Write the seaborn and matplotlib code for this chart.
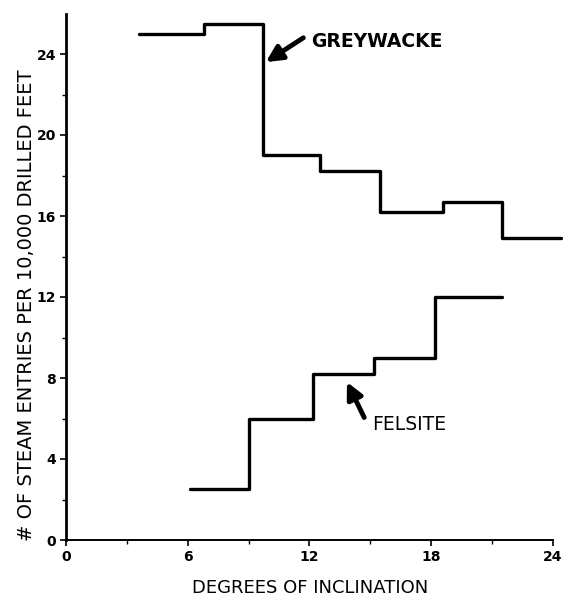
import numpy as np
import pandas as pd
import matplotlib
matplotlib.use("Agg")
import matplotlib.pyplot as plt
import seaborn as sns

# Step edges (degrees) and levels (entries per 10,000 ft)
grey_edges = [3.6, 6.8, 9.7, 12.5, 15.5, 18.6, 21.5, 24.4]
grey_values = [25.0, 25.5, 19.0, 18.2, 16.2, 16.7, 14.9]
fels_edges = [6.1, 9.0, 12.2, 15.2, 18.2, 21.5]
fels_values = [2.5, 6.0, 8.2, 9.0, 12.0]

x_major = [0, 6, 12, 18, 24]
x_minor = [3, 9, 15, 21]
y_major = [0, 4, 8, 12, 16, 20, 24]
y_minor = [2, 6, 10, 14, 18, 22]

sns.set_style("ticks")
plt.rcParams['font.family'] = ['DejaVu Sans']
plt.rcParams['text.color'] = 'black'
plt.rcParams['axes.labelcolor'] = 'black'
plt.rcParams['xtick.color'] = 'black'
plt.rcParams['ytick.color'] = 'black'
plt.rcParams['axes.edgecolor'] = 'black'

def step_frame(edges, values, name):
    return pd.DataFrame({"x": edges, "y": list(values) + [values[-1]], "rock": name})

df = pd.concat([step_frame(grey_edges, grey_values, "GREYWACKE"),
                step_frame(fels_edges, fels_values, "FELSITE")], ignore_index=True)

fig = plt.figure(figsize=(5.63, 5.98), dpi=100)
ax = fig.add_axes([66/563, 58/598, 497/563, 526.5/598])

sns.lineplot(data=df, x="x", y="y", units="rock", estimator=None,
             drawstyle="steps-post", color="black", linewidth=2.4,
             legend=False, ax=ax, sort=False)

ax.set_xlim(0, 24.5)
ax.set_ylim(0, 26)
sns.despine(ax=ax)
ax.spines['bottom'].set_bounds(0, 24)
ax.spines['left'].set_linewidth(2.0)
ax.spines['bottom'].set_linewidth(1.4)

ax.set_xticks(x_major)
ax.set_xticks(x_minor, minor=True)
ax.set_yticks(y_major)
ax.set_yticks(y_minor, minor=True)
ax.set_xticklabels([str(v) for v in x_major], fontsize=10, fontweight='bold')
ax.set_yticklabels([str(v) for v in y_major], fontsize=10, fontweight='bold')
ax.tick_params(axis='both', which='major', length=4, width=1.2, direction='out', color='black', pad=3)
ax.tick_params(axis='both', which='minor', length=3, width=1.0, direction='out', color='black')

ax.set_xlabel("DEGREES OF INCLINATION", fontsize=13, va='center')
ax.set_ylabel("# OF STEAM ENTRIES PER 10,000 DRILLED FEET", fontsize=14, va='center')
ax.xaxis.set_label_coords((310-66)/497, -(588-540)/526.5)
ax.yaxis.set_label_coords(-(66-27)/497, 0.445)

arrow = dict(arrowstyle='-|>', color='black', lw=3.5, mutation_scale=24, shrinkA=0, shrinkB=0)
ax.annotate('', xy=(9.85, 23.6), xytext=(11.7, 24.8), arrowprops=arrow)
ax.text(12.1, 24.6, "GREYWACKE", fontsize=13.5, fontweight='bold', ha='left', va='center')
ax.annotate('', xy=(13.85, 7.8), xytext=(14.7, 6.05), arrowprops=arrow)
ax.text(15.1, 5.7, "FELSITE", fontsize=13.5, ha='left', va='center')

fig.savefig("out.png", dpi=100, facecolor='white')
